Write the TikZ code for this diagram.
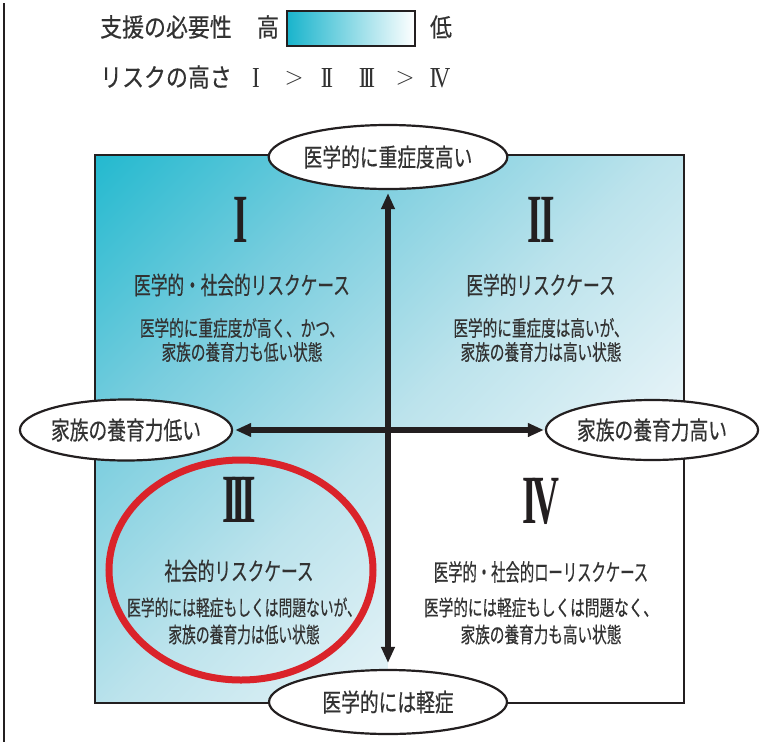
\documentclass[tikz,border=0pt]{standalone}
\usepackage{fontspec}
\usetikzlibrary{shapes.geometric,arrows.meta}
\newfontfamily\jpe[FakeStretch=0.75,FakeBold=0.4]{Noto Sans CJK JP}
\newfontfamily\jp[FakeStretch=0.68,FakeBold=0.4]{Noto Sans CJK JP}
\newfontfamily\jpn[FakeStretch=0.64,FakeBold=0.4]{Noto Sans CJK JP}
\newfontfamily\jpw[FakeStretch=0.61,FakeBold=0.4]{Noto Sans CJK JP}
\newfontfamily\jpl[FakeStretch=0.86,FakeBold=0.4]{Noto Sans CJK JP}
\newfontfamily\romf[FakeStretch=0.54]{Liberation Serif}
\newfontfamily\roml[FakeStretch=0.8]{Liberation Serif}
\definecolor{ink}{RGB}{35,31,32}
\definecolor{txt}{RGB}{50,50,50}
\definecolor{redc}{RGB}{218,35,42}
\definecolor{g0}{RGB}{35,185,207}
\definecolor{g25}{RGB}{120,205,222}
\definecolor{g50}{RGB}{188,227,236}
\definecolor{g75}{RGB}{232,244,248}
\definecolor{g100}{RGB}{252,254,254}
\definecolor{lc0}{RGB}{25,180,204}
\pgfdeclarehorizontalshading{diaggrad}{100bp}{color(0bp)=(g0); color(25bp)=(g0); color(37.5bp)=(g25); color(50bp)=(g50); color(62.5bp)=(g75); color(75bp)=(g100); color(100bp)=(g100)}
\pgfdeclarehorizontalshading{legendgrad}{100bp}{color(0bp)=(lc0); color(25bp)=(lc0); color(75bp)=(white); color(100bp)=(white)}
\tikzset{
  oval/.style={ellipse, draw=ink, line width=2.2pt, fill=white, inner sep=0pt, text=txt, font=\jpe\fontsize{25}{26}\selectfont},
  arr/.style={line width=5.5pt, draw=ink, {Triangle[length=16pt,width=13pt]}-{Triangle[length=16pt,width=13pt]}},
  qtitle/.style={text=txt, inner sep=0pt, font=\jp\fontsize{24.5}{26}\selectfont},
  qsub/.style={text=txt, inner sep=0pt, align=center, font=\jp\fontsize{21.5}{24}\selectfont},
  bignum/.style={text=ink, inner sep=0pt, font=\romf\bfseries\fontsize{69}{70}\selectfont},
  legtext/.style={text=txt, inner sep=0pt, font=\jpl\fontsize{25.5}{26}\selectfont},
  legnum/.style={text=txt, inner sep=0pt, font=\roml\fontsize{29}{30}\selectfont},
}
\begin{document}
\begin{tikzpicture}[x=1pt,y=-1pt]
\useasboundingbox (0,0) rectangle (763,742);
\fill[white] (0,0) rectangle (763,742);
% left margin line
\draw[ink, line width=2pt] (4,3) -- (4,742);
% legend
\node[legtext, anchor=west] (l1) at (100,27) {支援の必要性};
\node[legtext] (lhi) at (268,27) {高};
\shade[shading=legendgrad] (287,11) rectangle (415,46);
\draw[ink, line width=1.6pt] (287,11) rectangle (415,46);
\node[legtext] (llo) at (441,27) {低};
\node[legtext, anchor=west] (l2) at (100,77) {リスクの高さ};
\node[legnum] (n1) at (256,78) {I};
\node[legnum] (gt1) at (294,78) {\fontsize{24}{24}\selectfont$>$};
\node[legnum] (n2) at (327,78) {I\kern-3.2pt I};
\node[legnum] (n3) at (367,78) {I\kern-3.4pt I\kern-3.4pt I};
\node[legnum] (gt2) at (405,78) {\fontsize{24}{24}\selectfont$>$};
\node[legnum] (n4) at (440,78) {I\kern-3.6pt V};
% main box: diagonal gradient from top-left to bottom-right
\begin{scope}
  \clip (95,155) rectangle (684,703);
  \begin{scope}[transform canvas={shift={(389.5,429)}, rotate=-45}]
    \shade[shading=diaggrad] (-402,-420) rectangle (402,420);
  \end{scope}
\end{scope}
\fill[white] (388,430) rectangle (684,703);
\draw[ink, line width=2.4pt] (95,155) rectangle (684,703);
% red highlight
\draw[redc, line width=7pt] (241,570) ellipse [x radius=132, y radius=110];
% quadrant I
\node[bignum] (r1) at (241,220) {I};
\node[qtitle] (t1) at (242,285) {医学的・社会的リスクケース};
\node[qsub] (s1) at (242,340) {医学的に重症度が高く、かつ、\\家族の養育力も低い状態};
% quadrant II
\node[bignum] (r2) at (541,220) {I\kern-1pt I};
\node[qtitle] (t2) at (541,285) {医学的リスクケース};
\node[qsub] (s2) at (541,340) {医学的に重症度は高いが、\\家族の養育力は高い状態};
% quadrant III
\node[bignum] (r3) at (239,500) {I\kern-5pt I\kern-5pt I};
\node[qtitle] (t3) at (239,571) {社会的リスクケース};
\node[qsub, font=\jpn\fontsize{21.5}{27}\selectfont] (s3) at (244,621) {医学的には軽症もしくは問題ないが、\\家族の養育力は低い状態};
% quadrant IV
\node[bignum] (r4) at (541,501) {I\kern-4pt V};
\node[qtitle, font=\jpw\fontsize{23.5}{25}\selectfont] (t4) at (541,572) {医学的・社会的ローリスクケース};
\node[qsub, font=\jp\fontsize{21.5}{27}\selectfont] (s4) at (541,621) {医学的には軽症もしくは問題なく、\\家族の養育力も高い状態};
% axis ellipses
\node[oval, minimum width=238pt, minimum height=64pt] (top) at (388,157) {医学的に重症度高い};
\node[oval, minimum width=238pt, minimum height=64pt] (bot) at (388,702) {医学的には軽症};
\node[oval, minimum width=196pt, minimum height=61pt] (lft) at (126,430) {家族の養育力低い};
\node[oval, minimum width=199pt, minimum height=60pt] (rgt) at (652,430) {家族の養育力高い};
% axes
\draw[arr, shorten <=3pt, shorten >=6pt] (top) -- (bot);
\draw[arr, shorten <=2pt, shorten >=1pt] (lft) -- (rgt);
\end{tikzpicture}
\end{document}
